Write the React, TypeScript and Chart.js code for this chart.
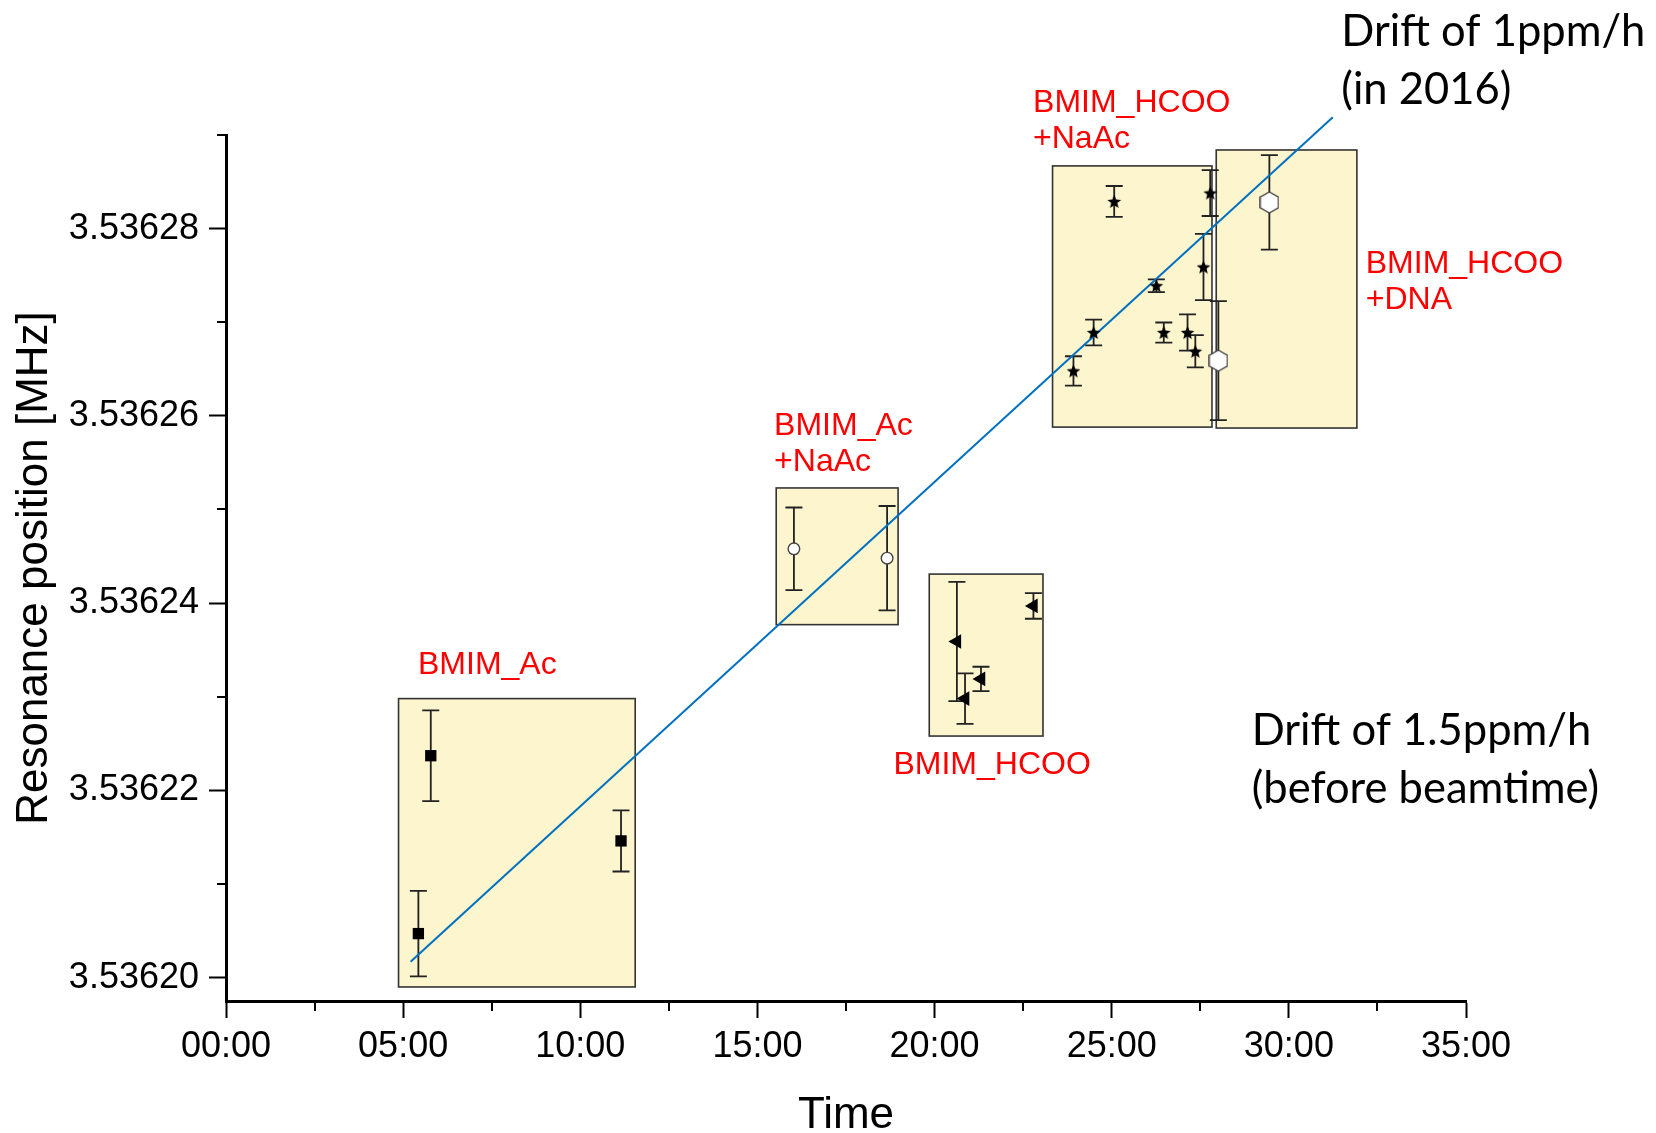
import React, { useEffect, useRef } from 'react';
import { Chart, registerables } from 'chart.js';

Chart.register(...registerables);

// ---------- axes ----------
const xMajorTicks = [0, 5, 10, 15, 20, 25, 30, 35];
const xTickLabels = ['00:00', '05:00', '10:00', '15:00', '20:00', '25:00', '30:00', '35:00'];
const xMinorTicks = [2.5, 7.5, 12.5, 17.5, 22.5, 27.5, 32.5];
const yMajorTicks = [3.5362, 3.53622, 3.53624, 3.53626, 3.53628];
const yTickLabels = ['3.53620', '3.53622', '3.53624', '3.53626', '3.53628'];
const yMinorTicks = [3.53621, 3.53623, 3.53625, 3.53627, 3.53629];

// ---------- series (x in hours, y in MHz, err = half error bar) ----------
const acX = [5.43, 5.78, 11.15];
const acY = [3.5362047, 3.5362237, 3.5362146];
const acErr = [4.57e-6, 4.85e-6, 3.27e-6];

const acNaX = [16.03, 18.66];
const acNaY = [3.5362458, 3.5362448];
const acNaErr = [4.41e-6, 5.57e-6];

const hcooX = [20.63, 20.86, 21.31, 22.79];
const hcooY = [3.5362359, 3.5362298, 3.5362319, 3.5362397];
const hcooErr = [6.37e-6, 2.7e-6, 1.3e-6, 1.37e-6];

const hcooNaX = [23.92, 24.49, 25.07, 26.26, 26.47, 27.14, 27.36, 27.59, 27.78];
const hcooNaY = [3.5362648, 3.5362689, 3.5362829, 3.5362739, 3.5362689, 3.5362689, 3.5362669, 3.5362759, 3.5362838];
const hcooNaErr = [1.57e-6, 1.37e-6, 1.65e-6, 0.68e-6, 1.07e-6, 1.94e-6, 1.73e-6, 3.53e-6, 2.45e-6];

const dnaX = [28.01, 29.45];
const dnaY = [3.5362659, 3.5362828];
const dnaErr = [6.36e-6, 5.04e-6];

// drift fit line
const fitX = [5.21, 31.24];
const fitY = [3.5362017, 3.5362919];

// group boxes
const boxXMin = [4.87, 15.53, 19.85, 23.33, 27.95];
const boxXMax = [11.55, 18.97, 23.06, 27.83, 31.92];
const boxYMin = [3.536199, 3.5362377, 3.5362258, 3.5362588, 3.5362587];
const boxYMax = [3.5362298, 3.5362523, 3.5362431, 3.5362867, 3.5362884];

// annotations
const redLabelLines = [['BMIM_Ac'], ['BMIM_Ac', '+NaAc'], ['BMIM_HCOO'], ['BMIM_HCOO', '+NaAc'], ['BMIM_HCOO', '+DNA']];
const redLabelX = [5.42, 15.47, 18.84, 22.78, 32.17];
const redLabelY = [3.5362334, 3.5362589, 3.5362227, 3.5362934, 3.5362762];

const driftLabelLines = [['Drift of 1ppm/h', '(in 2016)'], ['Drift of 1.5ppm/h', '(before beamtime)']];
const driftLabelX = [31.48, 28.95];
const driftLabelY = [3.536301, 3.5362263];

const ARIAL = "'Liberation Sans', Arial, sans-serif";
const CALIBRI = "Lato, 'Open Sans', sans-serif";

function pts(xs: number[], ys: number[]) {
  return xs.map((x, i) => ({ x, y: ys[i] }));
}

function makeStar(size: number) {
  const c = document.createElement('canvas');
  c.width = size;
  c.height = size;
  const g = c.getContext('2d')!;
  const cx = size / 2, cy = size / 2 + 0.6;
  const R = size / 2 - 0.3, r = R * 0.45;
  g.beginPath();
  for (let k = 0; k < 10; k++) {
    const a = -Math.PI / 2 + (k * Math.PI) / 5;
    const rr = k % 2 === 0 ? R : r;
    g.lineTo(cx + rr * Math.cos(a), cy + rr * Math.sin(a));
  }
  g.closePath();
  g.fillStyle = '#000';
  g.fill();
  return c;
}

function makeHexagon(w: number, h: number) {
  const c = document.createElement('canvas');
  c.width = w;
  c.height = h;
  const g = c.getContext('2d')!;
  const cx = w / 2, cy = h / 2;
  const R = h / 2 - 1;
  g.beginPath();
  for (let k = 0; k < 6; k++) {
    const a = -Math.PI / 2 + (k * Math.PI) / 3;
    g.lineTo(cx + R * Math.cos(a), cy + R * Math.sin(a));
  }
  g.closePath();
  g.fillStyle = '#fff';
  g.fill();
  g.strokeStyle = '#444';
  g.lineWidth = 1.4;
  g.stroke();
  return c;
}

const boxesPlugin = {
  id: 'groupBoxes',
  beforeDatasetsDraw(chart: any) {
    const { ctx, scales } = chart;
    const xs = scales.x, ys = scales.y;
    ctx.save();
    for (let i = 0; i < boxXMin.length; i++) {
      const l = xs.getPixelForValue(boxXMin[i]);
      const r = xs.getPixelForValue(boxXMax[i]);
      const t = ys.getPixelForValue(boxYMax[i]);
      const b = ys.getPixelForValue(boxYMin[i]);
      ctx.fillStyle = '#FCF5CE';
      ctx.fillRect(l, t, r - l, b - t);
      ctx.strokeStyle = '#333';
      ctx.lineWidth = 1.6;
      ctx.strokeRect(l, t, r - l, b - t);
    }
    ctx.restore();
  },
};

const errorBarPlugin = {
  id: 'errorBars',
  beforeDatasetsDraw(chart: any) {
    const { ctx, scales } = chart;
    const xs = scales.x, ys = scales.y;
    ctx.save();
    ctx.strokeStyle = '#222';
    ctx.lineWidth = 1.8;
    chart.data.datasets.forEach((ds: any) => {
      if (!ds.errorBars) return;
      ds.data.forEach((p: any, i: number) => {
        const e = ds.errorBars[i];
        const px = xs.getPixelForValue(p.x);
        const yt = ys.getPixelForValue(p.y + e);
        const yb = ys.getPixelForValue(p.y - e);
        ctx.beginPath();
        ctx.moveTo(px, yt);
        ctx.lineTo(px, yb);
        ctx.moveTo(px - 8.5, yt);
        ctx.lineTo(px + 8.5, yt);
        ctx.moveTo(px - 8.5, yb);
        ctx.lineTo(px + 8.5, yb);
        ctx.stroke();
      });
    });
    ctx.restore();
  },
};

const minorTickPlugin = {
  id: 'minorTicks',
  afterDraw(chart: any) {
    const { ctx, scales, chartArea } = chart;
    ctx.save();
    ctx.strokeStyle = '#000';
    ctx.lineWidth = 2;
    ctx.beginPath();
    xMinorTicks.forEach((v) => {
      const px = Math.round(scales.x.getPixelForValue(v));
      ctx.moveTo(px, chartArea.bottom);
      ctx.lineTo(px, chartArea.bottom + 10);
    });
    yMinorTicks.forEach((v) => {
      const py = Math.round(scales.y.getPixelForValue(v));
      ctx.moveTo(chartArea.left - 9, py);
      ctx.lineTo(chartArea.left, py);
    });
    ctx.stroke();
    ctx.restore();
  },
};

const annotationPlugin = {
  id: 'annotations',
  afterDraw(chart: any) {
    const { ctx, scales } = chart;
    ctx.save();
    ctx.textAlign = 'left';
    ctx.textBaseline = 'middle';
    ctx.fillStyle = '#FF0000';
    ctx.font = `32px ${ARIAL}`;
    redLabelLines.forEach((lines, i) => {
      const px = scales.x.getPixelForValue(redLabelX[i]);
      const py = scales.y.getPixelForValue(redLabelY[i]);
      lines.forEach((t, k) => ctx.fillText(t, px, py + k * 36));
    });
    ctx.fillStyle = '#000';
    ctx.font = `43.5px ${CALIBRI}`;
    driftLabelLines.forEach((lines, i) => {
      const px = scales.x.getPixelForValue(driftLabelX[i]);
      const py = scales.y.getPixelForValue(driftLabelY[i]);
      lines.forEach((t, k) => ctx.fillText(t, px, py + k * 58));
    });
    ctx.restore();
  },
};

export default function App() {
  const ref = useRef<HTMLCanvasElement | null>(null);

  useEffect(() => {
    if (!ref.current) return;
    const star = makeStar(15);
    const hex = makeHexagon(20, 23);
    const chart = new Chart(ref.current, {
      type: 'scatter',
      data: {
        datasets: [
          {
            label: 'fit',
            data: pts(fitX, fitY),
            showLine: true,
            borderColor: '#0070C0',
            borderWidth: 2,
            pointRadius: 0,
            clip: false,
            order: 5,
          } as any,
          {
            label: 'BMIM_Ac',
            data: pts(acX, acY),
            pointStyle: 'rect',
            pointRadius: 8,
            backgroundColor: '#000',
            borderColor: '#000',
            borderWidth: 0,
            errorBars: acErr,
            order: 0,
          } as any,
          {
            label: 'BMIM_Ac+NaAc',
            data: pts(acNaX, acNaY),
            pointStyle: 'circle',
            pointRadius: 5.8,
            backgroundColor: '#fff',
            borderColor: '#444',
            borderWidth: 1.4,
            errorBars: acNaErr,
            order: 0,
          } as any,
          {
            label: 'BMIM_HCOO',
            data: pts(hcooX, hcooY),
            pointStyle: 'triangle',
            rotation: -90,
            pointRadius: 8.5,
            backgroundColor: '#000',
            borderColor: '#000',
            borderWidth: 0,
            errorBars: hcooErr,
            order: 0,
          } as any,
          {
            label: 'BMIM_HCOO+NaAc',
            data: pts(hcooNaX, hcooNaY),
            pointStyle: star,
            pointRadius: 7,
            errorBars: hcooNaErr,
            order: 0,
          } as any,
          {
            label: 'BMIM_HCOO+DNA',
            data: pts(dnaX, dnaY),
            pointStyle: hex,
            pointRadius: 10,
            errorBars: dnaErr,
            order: 0,
          } as any,
        ],
      },
      options: {
        animation: false,
        responsive: false,
        events: [],
        layout: { padding: { left: 0, top: 135, right: 190, bottom: 0 } },
        plugins: { legend: { display: false }, tooltip: { enabled: false } },
        scales: {
          x: {
            type: 'linear',
            min: 0,
            max: 35,
            afterBuildTicks: (s: any) => {
              s.ticks = xMajorTicks.map((v) => ({ value: v }));
            },
            afterFit: (s: any) => {
              s.height = 132;
            },
            ticks: {
              callback: (_v: any, i: number) => xTickLabels[i],
              font: { family: ARIAL, size: 36 },
              color: '#000',
              padding: 7,
              maxRotation: 0,
              autoSkip: false,
            },
            grid: { drawOnChartArea: false, drawTicks: true, tickLength: 17, tickColor: '#000', tickWidth: 2 },
            border: { display: true, color: '#000', width: 3 },
            title: {
              display: true,
              text: 'Time',
              color: '#000',
              font: { family: ARIAL, size: 44, lineHeight: 0.8 },
              padding: { top: 0, bottom: 0 },
            },
          },
          y: {
            type: 'linear',
            min: 3.5361975,
            max: 3.53629,
            afterBuildTicks: (s: any) => {
              s.ticks = yMajorTicks.map((v) => ({ value: v }));
            },
            afterFit: (s: any) => {
              s.width = 226;
            },
            ticks: {
              callback: (_v: any, i: number) => yTickLabels[i],
              font: { family: ARIAL, size: 36 },
              color: '#000',
              padding: 10,
              autoSkip: false,
            },
            grid: { drawOnChartArea: false, drawTicks: true, tickLength: 17, tickColor: '#000', tickWidth: 2 },
            border: { display: true, color: '#000', width: 3 },
            title: {
              display: true,
              text: 'Resonance position [MHz]',
              color: '#000',
              font: { family: ARIAL, size: 44, lineHeight: 1 },
              padding: { top: 13, bottom: 0 },
            },
          },
        },
      } as any,
      plugins: [boxesPlugin, errorBarPlugin, minorTickPlugin, annotationPlugin],
    });
    return () => chart.destroy();
  }, []);

  return (
    <div style={{ position: 'absolute', left: 0, top: 0, width: 1656, height: 1133, background: '#fff' }}>
      <canvas ref={ref} width={1656} height={1133} />
    </div>
  );
}
